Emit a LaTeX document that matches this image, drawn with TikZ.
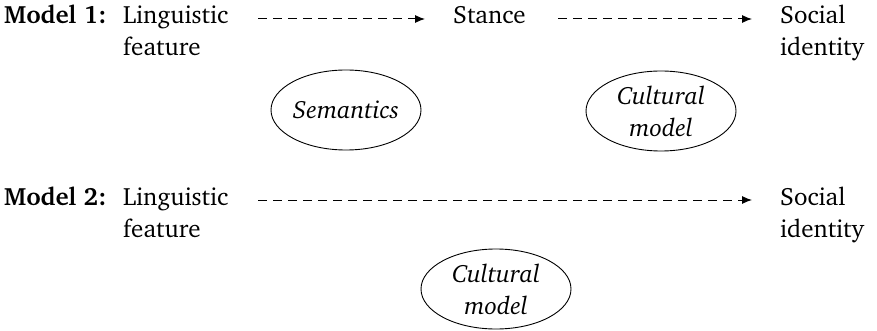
\documentclass[tikz,border=0pt]{standalone}
\usepackage[T1]{fontenc}
\usepackage{charter}
\usetikzlibrary{shapes.geometric,arrows.meta}
\begin{document}
\begin{tikzpicture}[x=1pt,y=-1pt,
 txt/.style={anchor=base west,inner sep=0pt,font=\fontsize{25}{32}\selectfont},
 hd/.style={anchor=base west,inner sep=0pt,font=\fontsize{25}{32}\selectfont\bfseries},
 arr/.style={line width=1pt,dash pattern=on 9pt off 6pt,-{Latex[length=10pt,width=8pt]}},
 oval/.style={ellipse,draw,line width=0.9pt,inner sep=0pt,align=center,
   minimum width=150pt,minimum height=80pt,font=\fontsize{25}{32}\selectfont\itshape}]
\useasboundingbox (0,0) rectangle (877,331);
% Model 1
\node[hd] (m1) at (4,24) {Model 1:};
\node[txt] (l1a) at (123,24) {Linguistic};
\node[txt] (l1b) at (123,56) {feature};
\node[txt] (st) at (453,24) {Stance};
\node[txt] (s1a) at (780,24) {Social};
\node[txt] (s1b) at (780,56) {identity};
\node[oval] (sem) at (346,110) {Semantics};
\node[oval] (cm1) at (661,111) {Cultural\\model};
\draw[arr] ([shift={(135,-5)}]l1a.base west) -- ([shift={(-28,-5)}]st.base west);
\draw[arr] ([shift={(105,-5)}]st.base west) -- ([shift={(-28,-5)}]s1a.base west);
% Model 2
\node[hd] (m2) at (4,205) {Model 2:};
\node[txt] (l2a) at (123,205) {Linguistic};
\node[txt] (l2b) at (123,237) {feature};
\node[txt] (s2a) at (780,205) {Social};
\node[txt] (s2b) at (780,237) {identity};
\node[oval] (cm2) at (496,289) {Cultural\\model};
\draw[arr] ([shift={(135,-5)}]l2a.base west) -- ([shift={(-28,-5)}]s2a.base west);
\end{tikzpicture}
\end{document}
